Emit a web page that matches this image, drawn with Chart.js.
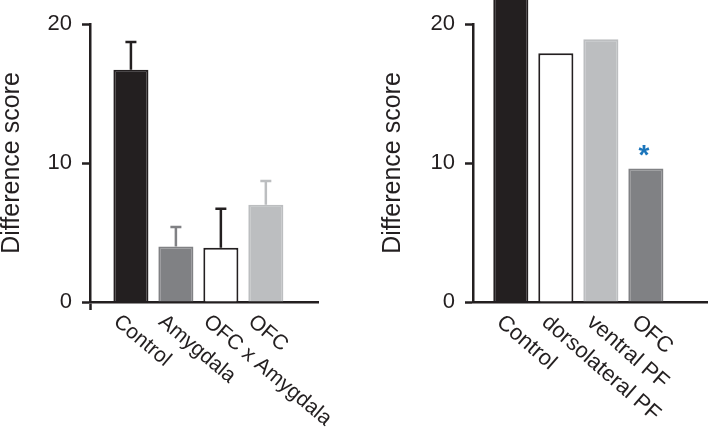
<!DOCTYPE html>
<html>
<head>
<meta charset="utf-8">
<script src="https://cdn.jsdelivr.net/npm/chart.js@4.4.3/dist/chart.umd.min.js"></script>
<style>
  html, body { margin: 0; padding: 0; background: #fff; }
  #wrap { position: relative; width: 708px; height: 427px; overflow: hidden; }
  .box { position: absolute; top: 0; height: 427px; }
</style>
</head>
<body>
<div id="wrap">
  <div class="box" style="left:0;width:400px"><canvas id="left"></canvas></div>
  <div class="box" style="left:360px;width:348px"><canvas id="right"></canvas></div>
</div>
<script>
// left panel
const leftLabels = ['Control', 'Amygdala', 'OFC x Amygdala', 'OFC'];
const leftValues = [16.7, 4.0, 3.9, 7.0];
const leftErrors = [2.0, 1.4, 2.8, 1.7];
const leftFill = ['#231f20', '#808184', '#ffffff', '#bcbec0'];
const leftEdge = ['#231f20', '#808184', '#231f20', '#bcbec0'];

// right panel
const rightLabels = ['Control', 'dorsolateral PF', 'ventral PF', 'OFC'];
const rightValues = [23.5, 17.9, 18.9, 9.6];
const rightFill = ['#231f20', '#ffffff', '#bcbec0', '#808184'];
const rightEdge = ['#231f20', '#231f20', '#bcbec0', '#808184'];
const rightStars = ['', '', '', '*'];

const yTicks = [0, 10, 20];
const FONT = '"Liberation Sans", Arial, Helvetica, sans-serif';

// upward-only error bars with a cap
const errorBars = {
    id: 'errorBars',
    afterDatasetsDraw(chart, args, opts) {
        if (!opts.errors) return;
        const ctx = chart.ctx;
        const meta = chart.getDatasetMeta(0);
        const y = chart.scales.y;
        ctx.save();
        ctx.lineWidth = 2.5;
        meta.data.forEach((bar, i) => {
            const v = chart.data.datasets[0].data[i].y;
            const top = y.getPixelForValue(v + opts.errors[i]);
            ctx.strokeStyle = opts.colors[i];
            ctx.beginPath();
            ctx.moveTo(bar.x, bar.y);
            ctx.lineTo(bar.x, top);
            ctx.moveTo(bar.x - 5.5, top);
            ctx.lineTo(bar.x + 5.5, top);
            ctx.stroke();
        });
        ctx.restore();
    }
};

// significance marks above bars
const stars = {
    id: 'stars',
    afterDatasetsDraw(chart, args, opts) {
        if (!opts.marks) return;
        const ctx = chart.ctx;
        const meta = chart.getDatasetMeta(0);
        ctx.save();
        ctx.fillStyle = '#1b75bb';
        ctx.font = 'bold 28px ' + FONT;
        ctx.textAlign = 'center';
        ctx.textBaseline = 'middle';
        meta.data.forEach((bar, i) => {
            if (opts.marks[i]) ctx.fillText(opts.marks[i], bar.x - 2, bar.y - 12);
        });
        ctx.restore();
    }
};

// slanted category labels under the x axis
const slantLabels = {
    id: 'slantLabels',
    afterDraw(chart, args, opts) {
        const ctx = chart.ctx;
        const x = chart.scales.x;
        const bottom = chart.chartArea.bottom;
        ctx.save();
        ctx.fillStyle = '#231f20';
        ctx.font = opts.size + 'px ' + FONT;
        ctx.textAlign = 'left';
        ctx.textBaseline = 'top';
        opts.labels.forEach((lab, i) => {
            const px = x.getPixelForValue(i);
            ctx.save();
            ctx.translate(px - 8 + opts.shift, bottom + 9);
            ctx.rotate(opts.angle * Math.PI / 180);
            ctx.fillText(lab, 0, 0);
            ctx.restore();
        });
        ctx.restore();
    }
};

function makeChart(id, cfg) {
    const points = cfg.values.map((v, i) => ({ x: i, y: v }));
    return new Chart(document.getElementById(id), {
        type: 'bar',
        data: {
            datasets: [{
                data: points,
                backgroundColor: cfg.fill,
                borderColor: cfg.edge,
                borderWidth: 2,
                borderSkipped: 'bottom',
                barPercentage: 0.78,
                categoryPercentage: 1,
                clip: false
            }]
        },
        options: {
            responsive: true,
            maintainAspectRatio: false,
            animation: false,
            layout: { padding: { top: 24, right: cfg.padRight, bottom: 125, left: 0 } },
            plugins: {
                legend: { display: false },
                tooltip: { enabled: false },
                errorBars: { errors: cfg.errors, colors: cfg.edge },
                stars: { marks: cfg.stars },
                slantLabels: { labels: cfg.labels, shift: cfg.labelShift, size: cfg.labelSize, angle: cfg.labelAngle }
            },
            scales: {
                x: {
                    type: 'linear',
                    min: cfg.xMin,
                    max: cfg.xMax,
                    offset: false,
                    afterBuildTicks: s => { s.ticks = [{ value: cfg.xMin }]; },
                    ticks: { display: false },
                    grid: {
                        display: cfg.stub,
                        offset: false,
                        drawOnChartArea: false,
                        drawTicks: true,
                        tickLength: 8,
                        tickWidth: 2.5,
                        tickColor: '#231f20'
                    },
                    border: { display: true, color: '#231f20', width: 2.5 },
                    afterFit: s => { s.height = 0; }
                },
                y: {
                    min: 0,
                    max: 20,
                    afterBuildTicks: s => { s.ticks = yTicks.map(v => ({ value: v })); },
                    ticks: {
                        color: '#231f20',
                        font: { family: FONT, size: 22 },
                        padding: 10
                    },
                    grid: {
                        drawOnChartArea: false,
                        drawTicks: true,
                        tickLength: 8,
                        tickWidth: 2.5,
                        tickColor: '#231f20'
                    },
                    border: { display: true, color: '#231f20', width: 2.5 },
                    title: {
                        display: true,
                        text: 'Difference score',
                        color: '#231f20',
                        font: { family: FONT, size: 25, lineHeight: 1 },
                        padding: { top: cfg.titlePad, bottom: 0 }
                    },
                    afterFit: s => { s.width = cfg.axisWidth; }
                }
            }
        },
        plugins: [errorBars, stars, slantLabels]
    });
}

makeChart('left', {
    labels: leftLabels, values: leftValues, errors: leftErrors,
    fill: leftFill, edge: leftEdge, stars: null, stub: true,
    labelShift: 0, labelSize: 21, labelAngle: 40,
    xMin: -0.91, xMax: 4.16, padRight: 82, axisWidth: 90, titlePad: 0
});

makeChart('right', {
    labels: rightLabels, values: rightValues, errors: null,
    fill: rightFill, edge: rightEdge, stars: rightStars, stub: false,
    labelShift: 4, labelSize: 22, labelAngle: 41,
    xMin: -0.84, xMax: 4.38, padRight: 0, axisWidth: 113, titlePad: 21
});
</script>
</body>
</html>
